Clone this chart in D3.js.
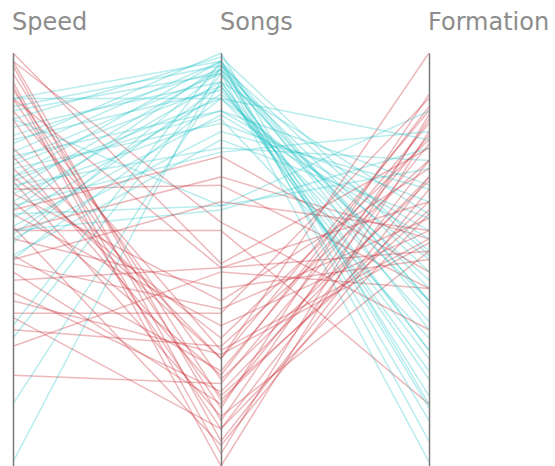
<!DOCTYPE html>
<meta charset="utf-8">
<style>
  html, body { margin: 0; padding: 0; background: #fff; overflow: hidden; }
  svg { display: block; }
  .title { font: normal 24px "DejaVu Sans", sans-serif; fill: #8c8c8c; }
  .axis path { fill: none; stroke: #7a7a7a; stroke-width: 1.5px; }
  .line { fill: none; stroke-width: 1.5px; stroke-opacity: 0.32; }
</style>
<body>
<svg></svg>
<script src="https://d3js.org/d3.v7.min.js"></script>
<script>
  // axes of the chart
  var dims = ["Speed", "Songs", "Formation"];

  // one row per record: [Speed, Songs, Formation], 0..100
  var redRows = [
    [100, 49, 77], [98, 11, 84], [95, 16, 64], [92, 0, 81], [91, 21, 69],
    [89, 14, 90], [86, 28, 55], [84, 9, 74], [77, 26, 86], [75, 17, 62],
    [70, 31, 79], [69, 12, 52], [66, 40, 72], [64, 22, 87], [61, 34, 57],
    [58, 5, 67], [55, 43, 50], [51, 23, 83], [49, 38, 60], [47, 15, 78],
    [45, 48, 64], [42, 18, 70], [40, 27, 54], [37, 37, 89], [36, 9, 61],
    [33, 29, 74], [29, 47, 43], [22, 20, 80], [62, 75, 47], [57, 70, 55],
    [67, 68, 43], [50, 64, 57], [98, 59, 33], [72, 26, 100], [57, 57, 15],
    [89, 48, 52], [97, 6, 70], [93, 3, 85]
  ];

  var cyanRows = [
    [89, 98, 33], [87, 97, 40], [86, 95, 28], [84, 99, 52], [82, 93, 21],
    [80, 96, 47], [79, 91, 35], [76, 98, 14], [75, 86, 57], [74, 95, 43],
    [73, 92, 26], [72, 83, 64], [70, 98, 6], [69, 89, 50], [68, 77, 74],
    [67, 96, 38], [66, 84, 31], [64, 93, 61], [63, 76, 81], [62, 97, 17],
    [61, 63, 86], [60, 90, 45], [58, 85, 55], [57, 62, 77], [56, 92, 23],
    [55, 81, 67], [54, 96, 11], [34, 98, 40], [31, 95, 1], [15, 93, 28],
    [1, 97, 51], [51, 79, 60], [84, 63, 72], [89, 89, 79], [78, 100, 15],
    [50, 89, 40], [70, 86, 68]
  ];

  var groupColors = { red: "#c8232a", cyan: "#22c4c6" };

  var W = 555, H = 466;

  var svg = d3.select("svg").attr("width", W).attr("height", H);

  var x = d3.scalePoint().domain(dims).range([13, 429]);
  var y = {};
  dims.forEach(function(d) {
    y[d] = d3.scaleLinear().domain([0, 100]).range([466, 53]);
  });

  var data = [];
  redRows.forEach(function(r) { data.push({ group: "red", v: r }); });
  cyanRows.forEach(function(r) { data.push({ group: "cyan", v: r }); });
  // mix the two groups so neither sits entirely on top
  data.sort(function(a, b) { return (a.v[0] * 7 + a.v[1]) % 13 - (b.v[0] * 7 + b.v[1]) % 13; });

  var line = d3.line();

  svg.append("g")
    .selectAll("path")
    .data(data)
    .enter()
    .append("path")
      .attr("class", "line")
      .attr("stroke", function(d) { return groupColors[d.group]; })
      .attr("d", function(d) {
        return line(dims.map(function(k, i) { return [x(k), y[k](d.v[i])]; }));
      });

  var axes = svg.selectAll(".dim")
    .data(dims)
    .enter()
    .append("g")
      .attr("class", "dim axis")
      .attr("transform", function(d) { return "translate(" + x(d) + ",0)"; });

  axes.each(function(d) {
    d3.select(this).call(d3.axisLeft(y[d]).ticks(0).tickSize(0).tickSizeOuter(0));
  });

  axes.append("text")
    .attr("class", "title")
    .attr("x", -1)
    .attr("y", 30)
    .attr("text-anchor", "start")
    .text(function(d) { return d; });
</script>
</body>
